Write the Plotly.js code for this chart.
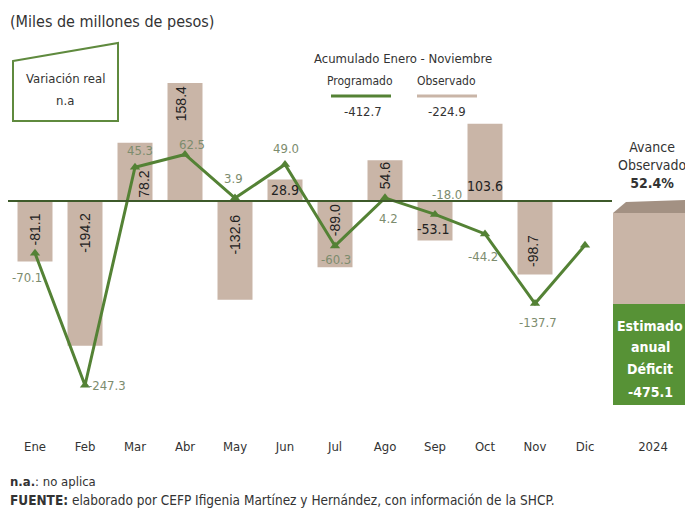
<!DOCTYPE html>
<html>
<head>
<meta charset="utf-8">
<script src="https://cdn.plot.ly/plotly-3.0.1.min.js"></script>
<style>html,body{margin:0;padding:0;background:#fff}#chart{width:685px;height:510px}</style>
</head>
<body>
<div id="chart"></div>
<script>
// ---------------- DATA ----------------
var months = ['Ene','Feb','Mar','Abr','May','Jun','Jul','Ago','Sep','Oct','Nov','Dic'];
var observado = [-81.1, -194.2, 78.2, 158.4, -132.6, 28.9, -89.0, 54.6, -53.1, 103.6, -98.7, null];
var programado = [-70.1, -247.3, 45.3, 62.5, 3.9, 49.0, -60.3, 4.2, -18.0, -44.2, -137.7, -59.5];
var acumProgramado = -412.7;
var acumObservado = -224.9;
var estimadoAnual = -475.1;
var avanceObservado = 52.4;
var yearLabel = ['2024'];

// ---------------- STYLE / LAYOUT HELPERS ----------------
var W = 685, H = 510;
function px(x){ return x / W; }
function py(y){ return 1 - y / H; }
var FONT = '"Liberation Sans Narrow", "DejaVu Sans Condensed", "Liberation Sans", sans-serif';
var FONT_NUM = '"Liberation Sans", Arial, sans-serif';
var GREEN = '#548235';
var TAN = '#c9b5a7';
var LABEL_GREEN = '#7d8c6e';

// plot geometry (pixels)
var plotTop = 60, plotBottom = 437, zeroY = 201, scale = 0.745;
var yRange = [-(plotBottom - zeroY) / scale, (zeroY - plotTop) / scale];
var boxTop = 213, boxBottom = 405;
var scale2 = (boxBottom - boxTop) / Math.abs(estimadoAnual);
var y2Range = [-(plotBottom - boxTop) / scale2, (boxTop - plotTop) / scale2];

var traces = [];
traces.push({
  type: 'bar', x: months, y: observado, width: 0.7,
  marker: {color: TAN}, hoverinfo: 'x+y', name: 'Observado', showlegend: false
});
traces.push({
  type: 'scatter', mode: 'lines+markers', x: months, y: programado,
  line: {color: GREEN, width: 3},
  marker: {symbol: 'triangle-up', size: 9, color: GREEN},
  name: 'Programado', showlegend: false, cliponaxis: false
});
// 2024 stacked box: observed part (tan) and remainder to annual estimate (green)
traces.push({
  type: 'bar', x: yearLabel, y: [acumObservado], width: 1, xaxis: 'x2', yaxis: 'y2',
  marker: {color: TAN}, showlegend: false, hoverinfo: 'y'
});
traces.push({
  type: 'bar', x: yearLabel, y: [estimadoAnual - acumObservado], width: 1, xaxis: 'x2', yaxis: 'y2',
  marker: {color: '#579236'}, showlegend: false, hoverinfo: 'y'
});

var ann = [];
// bar labels
var barFrac = [0.47, 0.22, 0.28, 0.82, 0.34, 0.5, 0.29, 0.61, 0.72, 0.2, 0.68];
var barXShift = [0, 0, 9, -4, 0, 0, 0, 0, -2, 0, -2];
var horizontal = {'Jun': true, 'Sep': true, 'Oct': true};
for (var i = 0; i < months.length; i++) {
  if (observado[i] === null) continue;
  var hz = !!horizontal[months[i]];
  ann.push({
    x: months[i], y: observado[i] * barFrac[i], xref: 'x', yref: 'y',
    text: observado[i].toFixed(1), showarrow: false,
    textangle: hz ? 0 : -90, xshift: barXShift[i],
    font: {family: hz ? FONT : FONT_NUM, size: 14, color: '#222'}
  });
}
// line labels
var lx = [-8, 22, 5, 7, -2, 1, 1, 3, 12, -2, 3];
var ly = [-24, 0, 17, 10, 20, 16, -14, -21, 20, -23, -19];
for (var j = 0; j < 11; j++) {
  ann.push({
    x: months[j], y: programado[j], xref: 'x', yref: 'y',
    text: programado[j].toFixed(1), showarrow: false,
    xshift: lx[j], yshift: ly[j],
    font: {family: FONT, size: 13, color: LABEL_GREEN}
  });
}
// header texts
function txt(x, y, t, size, opts) {
  var o = {x: px(x), y: py(y), xref: 'paper', yref: 'paper', text: t, showarrow: false,
    xanchor: 'center', yanchor: 'middle', font: {family: FONT, size: size, color: '#333'}};
  for (var k in (opts || {})) o[k] = opts[k];
  return o;
}
ann.push(txt(8, 22, '(Miles de millones de pesos)', 16, {xanchor: 'left'}));
ann.push(txt(65, 78, 'Variación real', 13));
ann.push(txt(65, 101, 'n.a', 13));
ann.push(txt(403, 58, 'Acumulado Enero - Noviembre', 13));
ann.push(txt(360, 81, 'Programado', 12));
ann.push(txt(447, 81, 'Observado', 12));
ann.push(txt(363, 111, acumProgramado.toFixed(1), 13));
ann.push(txt(447, 111, acumObservado.toFixed(1), 13));
ann.push(txt(652, 165, 'Avance<br>Observado<br><b>' + avanceObservado.toFixed(1) + '%</b>', 14));
var boxLines = ['Estimado', 'anual', 'Déficit', estimadoAnual.toFixed(1)];
var boxLineY = [326, 347, 369, 392];
for (var b = 0; b < boxLines.length; b++) {
  ann.push(txt(650, boxLineY[b], '<b>' + boxLines[b] + '</b>', 14,
    {font: {family: FONT, size: 14, color: '#ffffff'}}));
}
ann.push(txt(8, 481, '<b>n.a.</b>: no aplica', 13, {xanchor: 'left'}));
ann.push(txt(8, 500, '<b>FUENTE:</b> elaborado por CEFP Ifigenia Martínez y Hernández, con información de la SHCP.', 13.5, {xanchor: 'left'}));

var shapes = [];
// zero line
shapes.push({type: 'line', xref: 'paper', yref: 'y', x0: px(8), x1: px(612), y0: 0, y1: 0,
  line: {color: '#3e5a2a', width: 2}});
// Variación real box
shapes.push({type: 'path', xref: 'paper', yref: 'paper',
  path: 'M ' + px(13) + ' ' + py(61) + ' L ' + px(118) + ' ' + py(43) + ' L ' + px(118) + ' ' + py(121) +
        ' L ' + px(13) + ' ' + py(121) + ' Z',
  line: {color: '#5f8a3e', width: 2}, fillcolor: 'rgba(0,0,0,0)'});
// legend lines
shapes.push({type: 'line', xref: 'paper', yref: 'paper', x0: px(331), x1: px(391), y0: py(96), y1: py(96),
  line: {color: GREEN, width: 3}});
shapes.push({type: 'line', xref: 'paper', yref: 'paper', x0: px(417), x1: px(477), y0: py(96), y1: py(96),
  line: {color: TAN, width: 3}});
// 3D top face of the annual box
shapes.push({type: 'path', xref: 'paper', yref: 'paper',
  path: 'M ' + px(613) + ' ' + py(boxTop) + ' L ' + px(626) + ' ' + py(202) + ' L ' + px(685) + ' ' + py(200) +
        ' L ' + px(685) + ' ' + py(boxTop) + ' Z',
  line: {width: 0}, fillcolor: '#a39183', layer: 'above'});

var layout = {
  width: W, height: H,
  margin: {l: 0, r: 0, t: 0, b: 0},
  paper_bgcolor: '#fff', plot_bgcolor: 'rgba(0,0,0,0)',
  showlegend: false, barmode: 'relative',
  font: {family: FONT, color: '#333'},
  xaxis: {domain: [px(10), px(610)], range: [-0.5, 11.5], type: 'category',
    showgrid: false, zeroline: false, showline: false, ticks: '',
    tickfont: {family: FONT, size: 13, color: '#333'}, fixedrange: true},
  yaxis: {domain: [py(plotBottom), py(plotTop)], range: yRange, visible: false, fixedrange: true},
  xaxis2: {domain: [px(613), 1], range: [-0.5, 0.4], anchor: 'y2', type: 'category',
    showgrid: false, zeroline: false, showline: false, ticks: '',
    tickfont: {family: FONT, size: 13, color: '#333'}, fixedrange: true},
  yaxis2: {domain: [py(plotBottom), py(plotTop)], range: y2Range, visible: false, anchor: 'x2', fixedrange: true},
  annotations: ann,
  shapes: shapes
};

Plotly.newPlot('chart', traces, layout, {displayModeBar: false, staticPlot: true});
</script>
</body>
</html>
